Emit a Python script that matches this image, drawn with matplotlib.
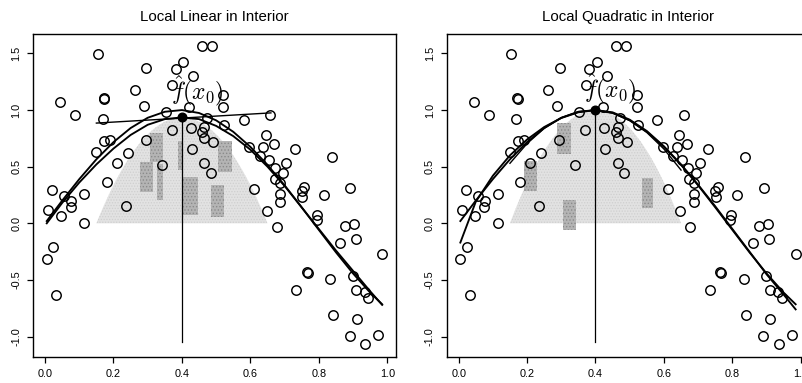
import numpy as np
import matplotlib
matplotlib.use("Agg")
import matplotlib.pyplot as plt
from matplotlib.patches import Rectangle

plt.rcParams['font.family'] = ['Liberation Sans', 'DejaVu Sans']
plt.rcParams['mathtext.fontset'] = 'cm'
plt.rcParams['hatch.linewidth'] = 0.6

# ---------------- data ----------------
x_obs = [0.154, 0.460, 0.488, 0.295, 0.382, 0.403, 0.433, 0.372, 0.262, 0.044,
         0.171, 0.173, 0.088, 0.288, 0.421, 0.521, 0.521, 0.353, 0.168, 0.658,
         0.580, 0.473, 0.426, 0.465, 0.370, 0.524, 0.460, 0.465, 0.294, 0.492,
         0.645, 0.668, 0.173, 0.190, 0.597, 0.638, 0.627, 0.429, 0.729, 0.150,
         0.242, 0.838, 0.653, 0.465, 0.341, 0.210, 0.484, 0.671, 0.704, 0.694,
         0.180, 0.612, 0.021, 0.056, 0.114, 0.750, 0.757, 0.814, 0.892, 0.076,
         0.075, 0.010, 0.047, 0.114, 0.024, 0.005, 0.033, 0.236, 0.648, 0.677,
         0.672, 0.687, 0.687, 0.687, 0.751, 0.796, 0.794, 0.877, 0.904, 0.908,
         0.861, 0.985, 0.765, 0.767, 0.734, 0.833, 0.899, 0.909, 0.934, 0.944,
         0.841, 0.911, 0.890, 0.973, 0.936]
y_obs = [1.491, 1.570, 1.570, 1.374, 1.365, 1.424, 1.301, 1.219, 1.173, 1.067,
         1.105, 1.100, 0.956, 1.035, 1.029, 1.023, 1.135, 0.985, 0.924, 0.959,
         0.915, 0.927, 0.845, 0.848, 0.827, 0.868, 0.807, 0.749, 0.737, 0.719,
         0.777, 0.698, 0.724, 0.737, 0.673, 0.675, 0.591, 0.660, 0.658, 0.626,
         0.618, 0.585, 0.558, 0.532, 0.518, 0.536, 0.444, 0.485, 0.533, 0.448,
         0.365, 0.307, 0.298, 0.243, 0.257, 0.288, 0.322, 0.249, 0.313, 0.196,
         0.146, 0.117, 0.064, 0.000, -0.213, -0.313, -0.629, 0.152, 0.105, -0.035,
         0.388, 0.352, 0.263, 0.190, 0.233, 0.076, 0.029, -0.020, -0.009, -0.137,
         -0.170, -0.272, -0.433, -0.436, -0.588, -0.491, -0.468, -0.585, -0.605, -0.658,
         -0.807, -0.842, -0.994, -0.988, -1.067]

x_grid = [0.005, 0.05, 0.10, 0.15, 0.20, 0.25, 0.30, 0.35, 0.40, 0.45, 0.50,
          0.55, 0.60, 0.65, 0.70, 0.75, 0.80, 0.85, 0.90, 0.95, 0.985]
true_curve = [0.02, 0.20, 0.39, 0.565, 0.717, 0.841, 0.932, 0.985, 1.0, 0.974, 0.909,
              0.808, 0.675, 0.516, 0.335, 0.141, -0.058, -0.256, -0.443, -0.612, -0.715]
fit_linear = [0.00, 0.18, 0.36, 0.52, 0.66, 0.78, 0.87, 0.92, 0.935, 0.92, 0.86,
              0.77, 0.65, 0.50, 0.33, 0.14, -0.05, -0.24, -0.42, -0.60, -0.72]
fit_quad = [-0.17, 0.19, 0.42, 0.60, 0.74, 0.85, 0.93, 0.98, 1.0, 0.98, 0.915,
            0.815, 0.68, 0.52, 0.34, 0.15, -0.05, -0.25, -0.45, -0.63, -0.76]

x0 = 0.4
fhat_linear = 0.935
fhat_quad = 1.0
local_line_x = [0.15, 0.66]
local_line_y = [0.885, 0.975]
local_par_x = [0.15, 0.20, 0.25, 0.30, 0.35, 0.40, 0.45, 0.50, 0.55, 0.60, 0.65]
local_par_y = [0.53, 0.704, 0.838, 0.932, 0.986, 1.0, 0.974, 0.908, 0.802, 0.656, 0.47]
kernel_lambda = 0.25

# darker halftone patches inside the kernel area (x0, x1, y0, y1)
blocks_left = [(0.307, 0.345, 0.537, 0.801), (0.278, 0.316, 0.275, 0.537),
               (0.327, 0.345, 0.204, 0.528), (0.389, 0.404, 0.467, 0.73),
               (0.404, 0.447, 0.073, 0.406), (0.485, 0.523, 0.055, 0.336),
               (0.506, 0.547, 0.45, 0.73)]
blocks_right = [(0.287, 0.327, 0.614, 0.886), (0.19, 0.228, 0.289, 0.553),
                (0.304, 0.342, -0.061, 0.202), (0.535, 0.567, 0.132, 0.404)]

titles = ["Local Linear in Interior", "Local Quadratic in Interior"]
xticks = [0.0, 0.2, 0.4, 0.6, 0.8, 1.0]
yticks = [-1.0, -0.5, 0.0, 0.5, 1.0, 1.5]

# ---------------- figure ----------------
W, H = 802, 383
fig = plt.figure(figsize=(W / 100, H / 100), dpi=100)

def ax_rect(l, r, t, b):
    return [l / W, 1 - b / H, (r - l) / W, (b - t) / H]

axL = fig.add_axes(ax_rect(33.4, 395.5, 33.5, 356.5))
axR = fig.add_axes(ax_rect(447, 809, 33.5, 356.5))

def draw(ax, title, fit, fhat, blocks, local_x, local_y, label_y):
    kx = np.linspace(x0 - kernel_lambda, x0 + kernel_lambda, 200)
    ky = fhat * (1 - ((kx - x0) / kernel_lambda) ** 2)
    ax.fill_between(kx, 0, ky, facecolor='#e2e2e2', edgecolor='#cfcfcf',
                    hatch='......', lw=0, zorder=1)
    for (a, b, c, d) in blocks:
        ax.add_patch(Rectangle((a, c), b - a, d - c, facecolor='#b4b4b4',
                               edgecolor='#8a8a8a', hatch='.....', lw=0,
                               zorder=1.5))
    ax.plot(x_obs, y_obs, 'o', mfc='none', mec='black', ms=6.8, mew=1.05, zorder=3)
    ax.plot(x_grid, true_curve, color='black', lw=1.35, zorder=4)
    ax.plot(x_grid, fit, color='black', lw=1.35, zorder=4)
    ax.plot(local_x, local_y, color='black', lw=1.0, zorder=4)
    ax.plot([x0, x0], [-1.05, fhat], color='black', lw=0.9, zorder=4)
    ax.plot([x0], [fhat], 'o', color='black', ms=6.2, zorder=5)
    ax.text(0.445, label_y, r'$\hat{f}(x_0)$', fontsize=17, ha='center',
            va='center', zorder=6)
    ax.set_xlim(-0.034, 1.024)
    ax.set_ylim(-1.176, 1.676)
    ax.set_xticks(xticks)
    ax.set_xticklabels([f"{v:.1f}" for v in xticks])
    ax.set_yticks(yticks)
    ax.set_yticklabels([f"{v:.1f}" for v in yticks], rotation=90, va='center')
    ax.tick_params(direction='out', length=4.2, width=0.9, labelsize=7.8,
                   pad=4.5, colors='black')
    for s in ax.spines.values():
        s.set_linewidth(1.0)
    ax.set_title(title, fontsize=10.8, pad=9)

draw(axL, titles[0], fit_linear, fhat_linear, blocks_left,
     local_line_x, local_line_y, 1.17)
draw(axR, titles[1], fit_quad, fhat_quad, blocks_right,
     local_par_x, local_par_y, 1.19)

fig.savefig("out.png", dpi=100)
